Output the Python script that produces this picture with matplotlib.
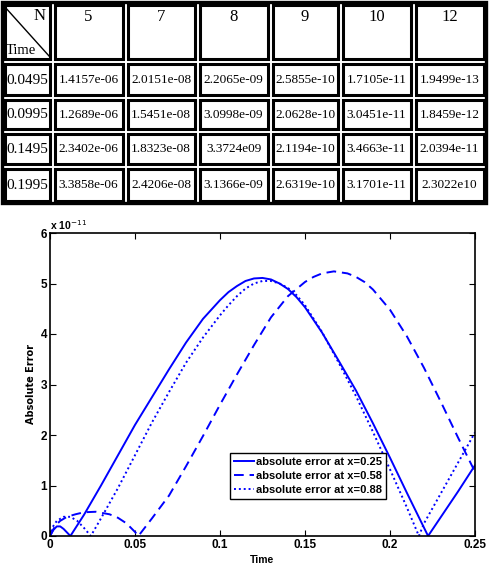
import matplotlib
matplotlib.use("Agg")
import matplotlib.pyplot as plt
from matplotlib.patches import Rectangle

# ---------------- data ----------------
col_headers = ["5", "7", "8", "9", "10", "12"]
row_times = ["0.0495", "0.0995", "0.1495", "0.1995"]
table_vals = [
    ["1.4157e-06", "2.0151e-08", "2.2065e-09", "2.5855e-10", "1.7105e-11", "1.9499e-13"],
    ["1.2689e-06", "1.5451e-08", "3.0998e-09", "2.0628e-10", "3.0451e-11", "1.8459e-12"],
    ["2.3402e-06", "1.8323e-08", "3.3724e09", "2.1194e-10", "3.4663e-11", "2.0394e-11"],
    ["3.3858e-06", "2.4206e-08", "3.1366e-09", "2.6319e-10", "3.1701e-11", "2.3022e10"],
]

# absolute error (units of 1e-11)
t_x025 = [0, 0.002, 0.004, 0.006, 0.008, 0.010, 0.012, 0.02, 0.03, 0.04, 0.05, 0.06, 0.07,
          0.08, 0.09, 0.10, 0.105, 0.11, 0.115, 0.12, 0.125, 0.13, 0.135, 0.14, 0.145,
          0.15, 0.16, 0.17, 0.18, 0.19, 0.20, 0.21, 0.2224, 0.23, 0.24, 0.25]
e_x025 = [0, 0.12, 0.19, 0.19, 0.14, 0.07, 0.0, 0.42, 1.0, 1.6, 2.2, 2.75, 3.3,
          3.83, 4.3, 4.67, 4.83, 4.95, 5.05, 5.1, 5.11, 5.08, 5.0, 4.89, 4.73,
          4.53, 4.03, 3.46, 2.88, 2.23, 1.55, 0.85, 0.0, 0.38, 0.88, 1.4]

t_x058 = [0, 0.003, 0.006, 0.01, 0.015, 0.02, 0.027, 0.035, 0.04, 0.045, 0.05, 0.052,
          0.06, 0.07, 0.08, 0.09, 0.10, 0.11, 0.12, 0.13, 0.14, 0.15, 0.155, 0.16, 0.167,
          0.175, 0.18, 0.185, 0.19, 0.20, 0.21, 0.22, 0.23, 0.24, 0.25]
e_x058 = [0, 0.2, 0.3, 0.38, 0.43, 0.47, 0.48, 0.43, 0.36, 0.25, 0.08, 0.0,
          0.35, 0.8, 1.38, 1.98, 2.6, 3.2, 3.78, 4.33, 4.75, 5.03, 5.13, 5.2, 5.24,
          5.2, 5.13, 5.03, 4.88, 4.48, 3.95, 3.33, 2.65, 1.95, 1.27]

t_x088 = [0, 0.002, 0.004, 0.008, 0.012, 0.016, 0.02, 0.024, 0.03, 0.04, 0.05, 0.06,
          0.07, 0.08, 0.09, 0.10, 0.105, 0.11, 0.115, 0.12, 0.125, 0.13, 0.135, 0.14,
          0.145, 0.15, 0.16, 0.17, 0.18, 0.19, 0.20, 0.21, 0.217, 0.22, 0.23, 0.24, 0.25]
e_x088 = [0, 0.2, 0.3, 0.38, 0.38, 0.3, 0.16, 0.0, 0.35, 0.95, 1.6, 2.25,
          2.85, 3.43, 3.93, 4.37, 4.57, 4.75, 4.9, 5.0, 5.05, 5.05, 5.0, 4.91,
          4.77, 4.57, 4.04, 3.42, 2.77, 2.06, 1.32, 0.56, 0.0, 0.25, 0.85, 1.45, 2.05]

legend_labels = ["absolute error at x=0.25", "absolute error at x=0.58", "absolute error at x=0.88"]

# ---------------- figure ----------------
W, H = 494, 564
fig = plt.figure(figsize=(W / 100, H / 100), dpi=100)

# table drawn in pixel coordinates
tax = fig.add_axes([0, 0, 1, 1])
tax.set_xlim(0, W)
tax.set_ylim(H, 0)
tax.axis("off")

col_edges = [2, 52, 125, 197, 270, 340, 413, 486]
row_edges = [2, 61, 97, 131, 166, 203]
serif = ["Liberation Serif", "DejaVu Serif"]

tax.add_patch(Rectangle((col_edges[0], row_edges[0]), col_edges[-1] - col_edges[0],
                        row_edges[-1] - row_edges[0], fill=False, lw=2.4, ec="black"))
g = 2.5
for r in range(len(row_edges) - 1):
    for c in range(len(col_edges) - 1):
        x0, x1 = col_edges[c] + g, col_edges[c + 1] - g
        y0, y1 = row_edges[r] + g, row_edges[r + 1] - g
        tax.add_patch(Rectangle((x0, y0), x1 - x0, y1 - y0, fill=False, lw=2.2, ec="black"))

# header corner cell
x0, x1 = col_edges[0] + g, col_edges[1] - g
y0, y1 = row_edges[0] + g, row_edges[1] - g
tax.plot([x0, x1], [y0 + 2, y1 - 2], color="black", lw=1.0)
tax.text(x1 - 4, y0 + 3, "N", family=serif, fontsize=12, ha="right", va="top")
tax.text(x0 + 1, y1 - 2, "Time", family=serif, fontsize=10.5, ha="left", va="bottom")

for c, h in enumerate(col_headers):
    xc = (col_edges[c + 1] + col_edges[c + 2]) / 2
    tax.text(xc, row_edges[0] + 7, h, family=serif, fontsize=12, ha="center", va="top")

for r, tt in enumerate(row_times):
    yc = (row_edges[r + 1] + row_edges[r + 2]) / 2 + 1
    xc = (col_edges[0] + col_edges[1]) / 2
    tax.text(xc, yc, tt, family=serif, fontsize=11, ha="center", va="center")
    for c, v in enumerate(table_vals[r]):
        xc = (col_edges[c + 1] + col_edges[c + 2]) / 2
        tax.text(xc, yc, v, family=serif, fontsize=9.5, ha="center", va="center")

# ---------------- plot ----------------
sans = ["Liberation Sans Narrow", "Liberation Sans", "DejaVu Sans"]
ax = fig.add_axes([50 / W, (H - 536) / H, 425 / W, 303 / H])
ax.plot(t_x025, e_x025, color="#0000ff", lw=1.4, ls="-", label=legend_labels[0])
ax.plot(t_x058, e_x058, color="#0000ff", lw=1.4, ls=(0, (5, 3)), label=legend_labels[1])
ax.plot(t_x088, e_x088, color="#0000ff", lw=1.4, ls=(0, (1, 1.5)), label=legend_labels[2])

ax.set_xlim(0, 0.25)
ax.set_ylim(0, 6)
ax.set_xticks([0, 0.05, 0.1, 0.15, 0.2, 0.25])
ax.set_xticklabels(["0", "0.05", "0.1", "0.15", "0.2", "0.25"])
ax.set_yticks([0, 1, 2, 3, 4, 5, 6])
ax.set_yticklabels(["0", "1", "2", "3", "4", "5", "6"])
ax.tick_params(direction="in", top=True, right=True, length=4, width=0.8, pad=2)
for lab in ax.get_xticklabels() + ax.get_yticklabels():
    lab.set_family(sans)
    lab.set_fontsize(8.5)
    lab.set_fontweight("bold")
for s in ax.spines.values():
    s.set_linewidth(1.2)

ax.text(0.0, 1.004, r"x 10$^{-11}$", transform=ax.transAxes, family=sans,
        fontsize=7.5, fontweight="bold", ha="left", va="bottom")
ax.set_xlabel("Time", family=sans, fontsize=7.5, fontweight="bold", labelpad=3)
ax.set_ylabel("Absolute Error", family=["DejaVu Sans"], fontsize=7, fontweight="bold", labelpad=3)

leg = ax.legend(loc="lower left", bbox_to_anchor=(0.4235, 0.122), prop={"family": sans, "size": 8, "weight": "bold"},
                handlelength=1.8, handletextpad=0.2, borderpad=0.35, labelspacing=0.35,
                fancybox=False, framealpha=1, edgecolor="black", borderaxespad=0)
leg.get_frame().set_linewidth(1.0)

fig.savefig("out.png", dpi=100)
